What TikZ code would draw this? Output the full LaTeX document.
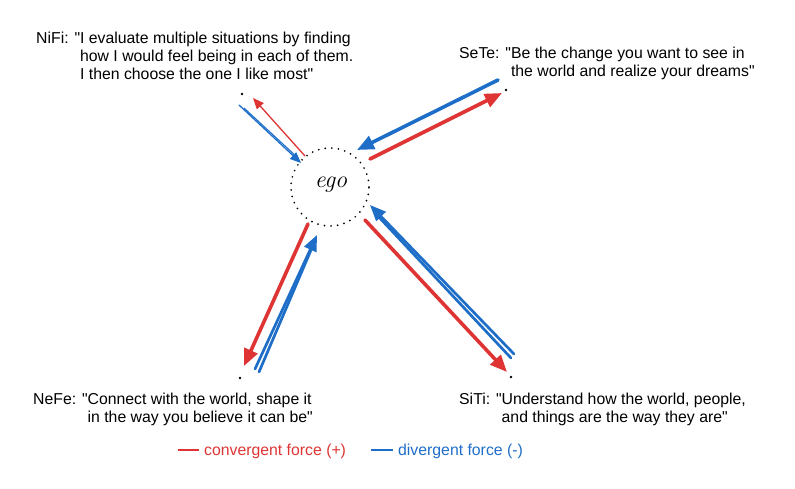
\documentclass[tikz,border=0pt]{standalone}
\usepackage{fontspec}
\setmainfont{Liberation Sans}[Ligatures=TeXOff]
\newfontfamily\egofont{Latin Modern Roman}
\usetikzlibrary{arrows.meta}
\definecolor{convred}{RGB}{222,52,52}
\definecolor{divblue}{RGB}{30,110,200}
\tikzset{quote/.style={anchor=base west,inner sep=0pt,font=\fontsize{15.8}{18}\selectfont},
         enddot/.style={circle,fill=black,inner sep=0pt,minimum size=2.6pt},
         thin force/.style={line width=1.3pt,line cap=round,-{Triangle[length=11pt,width=9pt]}},
         thick force/.style={line width=3.6pt,line cap=round,-{Triangle[length=17pt,width=14pt]}},
         stroke/.style={line width=2.7pt,line cap=round}}

\begin{document}
\begin{tikzpicture}[x=1pt,y=-1pt]
\useasboundingbox (0,0) rectangle (795,488);
% ego
\node [circle,draw,minimum size=78pt,line width=1.9pt,line cap=round,dash pattern=on 0pt off 6.6pt] (ego) at (330,187) {};
\node [font=\egofont\itshape\fontsize{24}{24}\selectfont] (egotext) at (331,185) {ego};
% end points
\node [enddot] (nifi) at (242,94) {};
\node [enddot] (sete) at (506,90) {};
\node [enddot] (nefe) at (240,378) {};
\node [enddot] (siti) at (511,377) {};
% texts
\node [quote] (nifitext) at (36,43) {\begin{tabular}[t]{@{}l@{}l@{}}NiFi: "&I evaluate multiple situations by finding\\ &how I would feel being in each of them.\\ &I then choose the one I like most"\end{tabular}};
\node [quote] (setetext) at (459,58) {\begin{tabular}[t]{@{}l@{}l@{}}SeTe: "&Be the change you want to see in\\ &the world and realize your dreams"\end{tabular}};
\node [quote] (nefetext) at (33,404) {\begin{tabular}[t]{@{}l@{}l@{}}NeFe: "&Connect with the world, shape it\\ &in the way you believe it can be"\end{tabular}};
\node [quote] (sititext) at (459,404) {\begin{tabular}[t]{@{}l@{}l@{}}SiTi: "&Understand how the world, people,\\ &and things are the way they are"\end{tabular}};
% arrow ends
\coordinate (ni-r0) at (305,156); \coordinate (ni-r1) at (253,98);
\coordinate (ni-b0) at (239,105); \coordinate (ni-b1) at (301,163);
\coordinate (ni-c0) at (244,108); \coordinate (ni-c1) at (298,158);
\coordinate (se-b0) at (498,80);  \coordinate (se-b1) at (357,150);
\coordinate (se-r0) at (370,159); \coordinate (se-r1) at (502,93);
\coordinate (ne-r0) at (308,224); \coordinate (ne-r1) at (244,366);
\coordinate (ne-b0) at (255,369); \coordinate (ne-b1) at (317,235);
\coordinate (ne-c0) at (259,372); \coordinate (ne-c1) at (314,243);
\coordinate (si-r0) at (365,220); \coordinate (si-r1) at (507,372);
\coordinate (si-b0) at (514,354); \coordinate (si-b1) at (370,205);
\coordinate (si-c0) at (511,358); \coordinate (si-c1) at (376,214);
% NiFi
\draw [convred,thin force] (ni-r0) -- (ni-r1);
\draw [divblue,thin force] (ni-b0) -- (ni-b1);
\draw [divblue,line width=1.1pt] (ni-c0) -- (ni-c1);
% SeTe
\draw [divblue,thick force] (se-b0) -- (se-b1);
\draw [convred,thick force] (se-r0) -- (se-r1);
% NeFe
\draw [convred,thick force] (ne-r0) -- (ne-r1);
\draw [divblue,stroke,-{Triangle[length=16pt,width=13pt]}] (ne-b0) -- (ne-b1);
\draw [divblue,stroke] (ne-c0) -- (ne-c1);
% SiTi
\draw [convred,thick force] (si-r0) -- (si-r1);
\draw [divblue,stroke,-{Triangle[length=16pt,width=13pt]}] (si-b0) -- (si-b1);
\draw [divblue,stroke] (si-c0) -- (si-c1);
% legend
\coordinate (lr0) at (178,450); \coordinate (lr1) at (199,450);
\coordinate (lb0) at (371,450); \coordinate (lb1) at (393,450);
\draw [convred,line width=1.6pt] (lr0) -- (lr1);
\node [quote,text=convred] (convtext) at (204,455) {convergent force (+)};
\draw [divblue,line width=1.6pt] (lb0) -- (lb1);
\node [quote,text=divblue] (divtext) at (398,455) {divergent force (-)};
\end{tikzpicture}
\end{document}
